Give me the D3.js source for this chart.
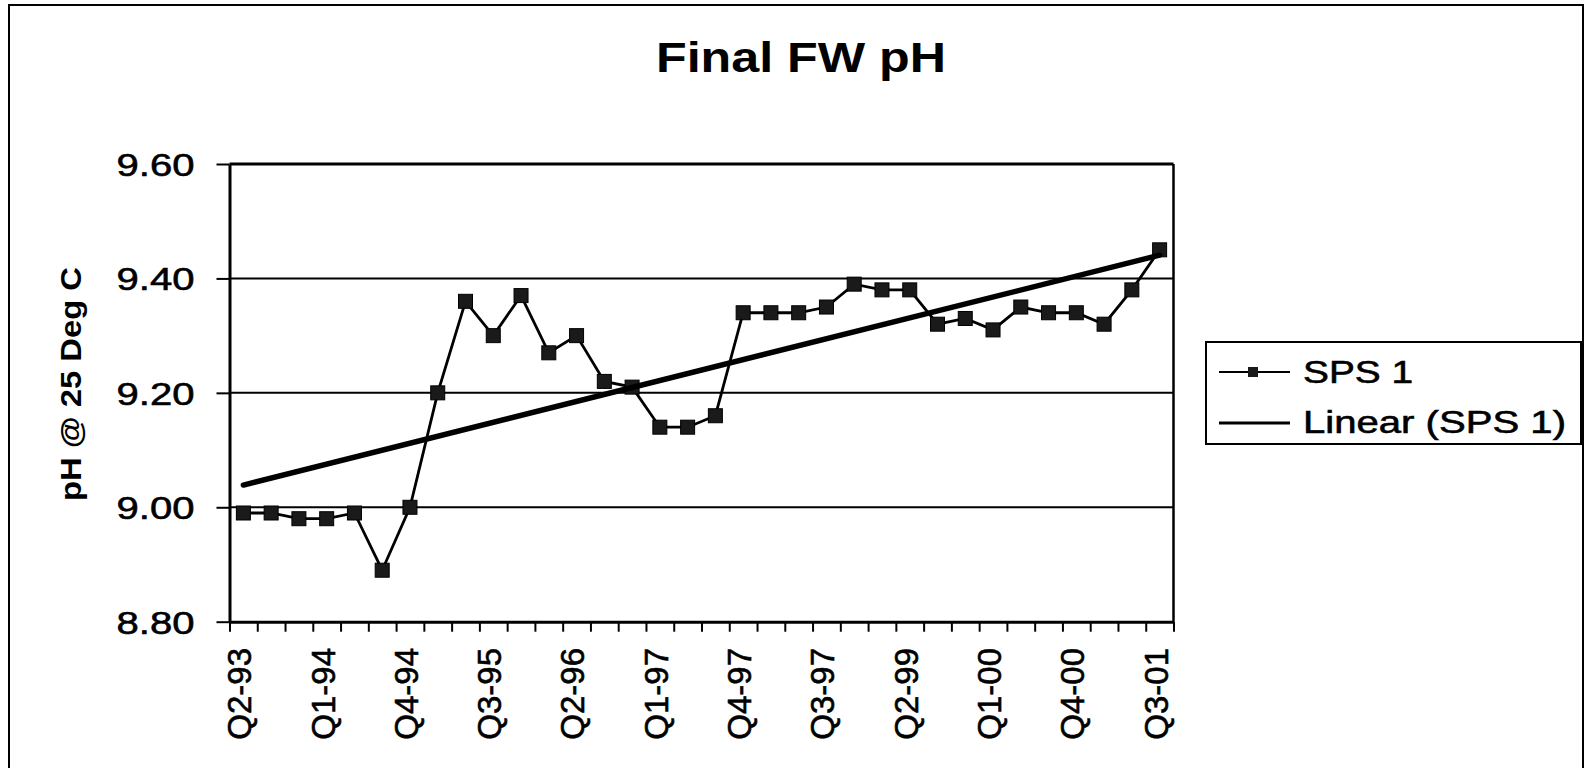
<!DOCTYPE html>
<html>
<head>
<meta charset="utf-8">
<title>Final FW pH</title>
<script src="https://cdn.jsdelivr.net/npm/d3@7/dist/d3.min.js"></script>
<style>
    html, body { margin: 0; padding: 0; background: #fff; }
    svg { display: block; font-family: "Liberation Sans", Arial, sans-serif; }
    .axis path, .axis line { stroke: #000; }
    .heavy { stroke: #000; stroke-width: 0.6px; }
</style>
</head>
<body>
<svg width="1587" height="768"></svg>
<script>

    // quarters, one per sample (labels as printed on the chart)
    var quarters = [
        'Q2-93', 'Q3-93', 'Q4-93', 'Q1-94', 'Q2-94', 'Q3-94', 'Q4-94', 'Q1-95',
        'Q2-95', 'Q3-95', 'Q4-95', 'Q1-96', 'Q2-96', 'Q3-96', 'Q4-96', 'Q1-97',
        'Q2-97', 'Q3-97', 'Q4-97', 'Q1-98', 'Q2-98', 'Q3-97', 'Q4-98', 'Q1-99',
        'Q2-99', 'Q3-99', 'Q4-99', 'Q1-00', 'Q2-00', 'Q3-00', 'Q4-00', 'Q1-01',
        'Q2-01', 'Q3-01'
    ];

    // SPS 1 final FW pH
    var sps1 = [
        8.99, 8.99, 8.98, 8.98, 8.99, 8.89, 9.00, 9.20, 9.36, 9.30,
        9.37, 9.27, 9.30, 9.22, 9.21, 9.14, 9.14, 9.16, 9.34, 9.34,
        9.34, 9.35, 9.39, 9.38, 9.38, 9.32, 9.33, 9.31, 9.35, 9.34,
        9.34, 9.32, 9.38, 9.45
    ];

    var yTicks = [ 8.80, 9.00, 9.20, 9.40, 9.60 ];
    var yDomain = [ 8.80, 9.60 ];
    var labelEvery = 3;

    var svg = d3.select( 'svg' ),
        plotLeft = 229.5,
        plotRight = 1173.5,
        plotTop = 164,
        plotBottom = 621.7,
        idx = d3.range( sps1.length ),
        x, xEdge, y, fit, g;

    x = d3.scaleBand().domain( idx ).range( [ plotLeft, plotRight ] );
    xEdge = d3.scaleLinear().domain( [ 0, sps1.length ] ).range( [ plotLeft, plotRight ] );
    y = d3.scaleLinear().domain( yDomain ).range( [ plotBottom, plotTop ] );

    /**
     * least squares fit, same as the spreadsheet "Linear" trendline
     */
    fit = ( function() {
        var mx = d3.mean( idx ),
            my = d3.mean( sps1 ),
            sxy = d3.sum( idx, function( i ) { return ( i - mx ) * ( sps1[ i ] - my ); } ),
            sxx = d3.sum( idx, function( i ) { return ( i - mx ) * ( i - mx ); } ),
            b = sxy / sxx;
        return function( i ) { return my + b * ( i - mx ); };
    } )();

    // outer frame
    svg.append( 'rect' )
        .attr( 'x', 9 ).attr( 'y', 5 )
        .attr( 'width', 1574 ).attr( 'height', 780 )
        .attr( 'fill', 'none' ).attr( 'stroke', '#000' ).attr( 'stroke-width', 2 );

    // title
    svg.append( 'text' )
        .attr( 'x', 656 ).attr( 'y', 72 )
        .attr( 'font-size', 42 ).attr( 'font-weight', 'bold' )
        .attr( 'textLength', 290 ).attr( 'lengthAdjust', 'spacingAndGlyphs' )
        .text( 'Final FW pH' );

    // gridlines
    svg.append( 'g' )
        .selectAll( 'line' )
        .data( yTicks.slice( 1 ) )
        .enter().append( 'line' )
        .attr( 'x1', plotLeft ).attr( 'x2', plotRight )
        .attr( 'y1', function( d ) { return y( d ); } )
        .attr( 'y2', function( d ) { return y( d ); } )
        .attr( 'stroke', '#000' )
        .attr( 'stroke-width', function( d ) { return d === 9.60 ? 3 : 2; } );

    // right border of plot
    svg.append( 'line' )
        .attr( 'x1', plotRight ).attr( 'x2', plotRight )
        .attr( 'y1', plotTop ).attr( 'y2', plotBottom )
        .attr( 'stroke', '#000' ).attr( 'stroke-width', 2.5 );

    // y axis
    g = svg.append( 'g' )
        .attr( 'class', 'axis' )
        .attr( 'transform', 'translate(' + plotLeft + ',0)' )
        .call( d3.axisLeft( y ).tickValues( yTicks ).tickSize( 13 ).tickSizeOuter( 0 ).tickFormat( d3.format( '.2f' ) ) );
    g.select( '.domain' ).attr( 'stroke-width', 3 );
    g.selectAll( '.tick line' ).attr( 'stroke-width', 2 );
    g.selectAll( '.tick text' )
        .attr( 'class', 'heavy' )
        .attr( 'x', -35 )
        .attr( 'dy', '0.36em' )
        .attr( 'font-size', 32 )
        .attr( 'fill', '#000' )
        .attr( 'font-family', '"Liberation Sans", Arial, sans-serif' )
        .attr( 'textLength', 78 ).attr( 'lengthAdjust', 'spacingAndGlyphs' );

    // x axis, ticks between categories
    g = svg.append( 'g' )
        .attr( 'class', 'axis' )
        .attr( 'transform', 'translate(0,' + plotBottom + ')' )
        .call( d3.axisBottom( xEdge ).tickValues( d3.range( sps1.length + 1 ) ).tickSize( 10 ).tickSizeOuter( 0 ).tickFormat( '' ) );
    g.select( '.domain' ).attr( 'stroke-width', 3 );
    g.selectAll( '.tick line' ).attr( 'stroke-width', 2 );

    // category labels
    svg.append( 'g' )
        .selectAll( 'text' )
        .data( idx.filter( function( i ) { return i % labelEvery === 0; } ) )
        .enter().append( 'text' )
        .attr( 'class', 'heavy' )
        .attr( 'transform', function( i ) {
            return 'translate(' + ( x( i ) + x.bandwidth() / 2 - 4 ) + ',648) rotate(-90)';
        } )
        .attr( 'text-anchor', 'end' )
        .attr( 'dy', '0.36em' )
        .attr( 'font-size', 33 )
        .text( function( i ) { return quarters[ i ]; } );

    // y axis title
    svg.append( 'text' )
        .attr( 'transform', 'translate(70,384) rotate(-90)' )
        .attr( 'text-anchor', 'middle' )
        .attr( 'dy', '0.36em' )
        .attr( 'font-size', 30 ).attr( 'font-weight', 'bold' )
        .attr( 'textLength', 234 ).attr( 'lengthAdjust', 'spacingAndGlyphs' )
        .text( 'pH @ 25 Deg C' );

    // series line
    svg.append( 'path' )
        .datum( idx )
        .attr( 'fill', 'none' )
        .attr( 'stroke', '#000' )
        .attr( 'stroke-width', 2.8 )
        .attr( 'd', d3.line()
            .x( function( i ) { return x( i ) + x.bandwidth() / 2; } )
            .y( function( i ) { return y( sps1[ i ] ); } ) );

    // markers
    svg.append( 'g' )
        .selectAll( 'rect' )
        .data( idx )
        .enter().append( 'rect' )
        .attr( 'x', function( i ) { return x( i ) + x.bandwidth() / 2 - 7; } )
        .attr( 'y', function( i ) { return y( sps1[ i ] ) - 7; } )
        .attr( 'width', 14 ).attr( 'height', 14 )
        .attr( 'fill', '#1a1a1a' ).attr( 'stroke', '#000' ).attr( 'stroke-width', 1 );

    // trendline
    svg.append( 'path' )
        .datum( [ 0, sps1.length - 1 ] )
        .attr( 'fill', 'none' )
        .attr( 'stroke', '#000' )
        .attr( 'stroke-width', 5.5 )
        .attr( 'stroke-linecap', 'round' )
        .attr( 'd', d3.line()
            .x( function( i ) { return x( i ) + x.bandwidth() / 2; } )
            .y( function( i ) { return y( fit( i ) ); } ) );

    // legend
    g = svg.append( 'g' ).attr( 'transform', 'translate(1206,342)' );
    g.append( 'rect' )
        .attr( 'width', 375 ).attr( 'height', 102 )
        .attr( 'fill', '#fff' ).attr( 'stroke', '#000' ).attr( 'stroke-width', 2 );
    g.append( 'line' )
        .attr( 'x1', 13 ).attr( 'x2', 84 ).attr( 'y1', 30 ).attr( 'y2', 30 )
        .attr( 'stroke', '#000' ).attr( 'stroke-width', 2 );
    g.append( 'rect' )
        .attr( 'x', 42 ).attr( 'y', 25 ).attr( 'width', 10 ).attr( 'height', 10 )
        .attr( 'fill', '#1a1a1a' );
    g.append( 'text' )
        .attr( 'class', 'heavy' )
        .attr( 'x', 97 ).attr( 'y', 41 )
        .attr( 'font-size', 32 )
        .attr( 'textLength', 110 ).attr( 'lengthAdjust', 'spacingAndGlyphs' )
        .text( 'SPS 1' );
    g.append( 'line' )
        .attr( 'x1', 13 ).attr( 'x2', 84 ).attr( 'y1', 81 ).attr( 'y2', 81 )
        .attr( 'stroke', '#000' ).attr( 'stroke-width', 3 );
    g.append( 'text' )
        .attr( 'class', 'heavy' )
        .attr( 'x', 97 ).attr( 'y', 91 )
        .attr( 'font-size', 32 )
        .attr( 'textLength', 263 ).attr( 'lengthAdjust', 'spacingAndGlyphs' )
        .text( 'Linear (SPS 1)' );

</script>
</body>
</html>
